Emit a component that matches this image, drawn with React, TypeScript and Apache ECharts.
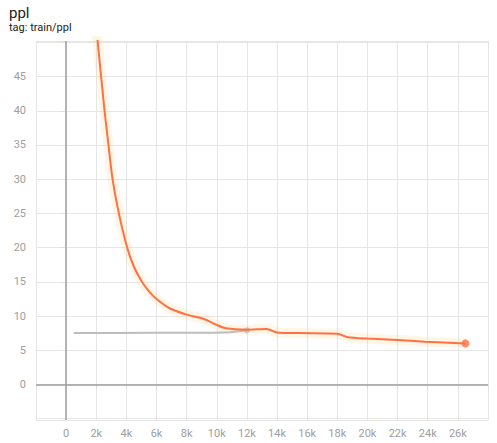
import React, { useEffect, useRef } from "react";
import * as echarts from "echarts";

const trainSteps = [2000, 2550, 2810, 3080, 3500, 4050, 4500, 5030, 5500, 6000, 6900, 8000, 9100, 10000, 10600, 12000, 13300, 14000, 15500, 18000, 18700, 20000, 22000, 23800, 26500];
const trainPpl = [52.2, 40, 35, 30, 25, 20, 17.2, 15, 13.6, 12.5, 11.1, 10.2, 9.6, 8.7, 8.2, 8.0, 8.1, 7.6, 7.5, 7.4, 6.9, 6.7, 6.5, 6.25, 6.0];
const otherSteps = [500, 6000, 10500, 12000];
const otherPpl = [7.5, 7.55, 7.6, 7.9];

const titleText = "ppl";
const tagText = "tag: train/ppl";

export default function App() {
  const ref = useRef<HTMLDivElement>(null);
  useEffect(() => {
    if (!ref.current) return;
    const chart = echarts.init(ref.current, undefined, { renderer: "svg" });
    const orange = trainSteps.map((s, i) => [s, trainPpl[i]]);
    const gray = otherSteps.map((s, i) => [s, otherPpl[i]]);
    const font = "Roboto, 'Noto Sans', sans-serif";
    chart.setOption({
      animation: false,
      textStyle: { fontFamily: font },
      title: {
        left: 4,
        top: 0,
        text: titleText,
        subtext: tagText,
        itemGap: 2,
        textStyle: { fontSize: 15, fontWeight: "normal", color: "#212121", fontFamily: font },
        subtextStyle: { fontSize: 11, color: "#212121", fontFamily: font },
      },
      grid: { left: 36, right: 9, top: 41, bottom: 23 },
      xAxis: {
        type: "value",
        min: -2000,
        max: 28000,
        splitNumber: 15,
        axisLine: { show: false },
        axisTick: { show: true, length: 5, lineStyle: { color: "#e0e0e0" } },
        axisLabel: {
          color: "#9e9e9e",
          fontSize: 11,
          margin: 8,
          formatter: (v: number) => (v < 0 || v > 26000 ? "" : v === 0 ? "0" : v / 1000 + "k"),
        },
        splitLine: { show: true, lineStyle: { color: "#e6e6e6", width: 1 } },
      },
      yAxis: {
        type: "value",
        min: -5.2,
        max: 50.2,
        splitNumber: 11,
        axisLine: { show: false },
        axisTick: { show: true, length: 6, lineStyle: { color: "#e0e0e0" } },
        axisLabel: {
          color: "#9e9e9e",
          fontSize: 11,
          margin: 10,
          formatter: (v: number) => (v >= 0 && v <= 45 && Math.abs(v % 5) < 1e-6 ? String(v) : ""),
        },
        splitLine: { show: true, lineStyle: { color: "#e6e6e6", width: 1 } },
      },
      series: [
        {
          type: "line",
          data: gray,
          showSymbol: false,
          smooth: 0.2,
          lineStyle: { color: "#bdbdbd", width: 2 },
          z: 3,
          markLine: {
            silent: true,
            symbol: "none",
            label: { show: false },
            lineStyle: { color: "#9e9e9e", width: 1.5, type: "solid" },
            data: [{ xAxis: 0 }, { yAxis: 0 }],
          },
        },
        {
          type: "scatter",
          data: [gray[gray.length - 1]],
          symbolSize: 6,
          itemStyle: { color: "#bdbdbd" },
          z: 4,
        },
        {
          type: "line",
          data: orange,
          showSymbol: false,
          smooth: 0.25,
          lineStyle: { color: "#ffcc80", width: 10, opacity: 0.18 },
          z: 2,
          silent: true,
        },
        {
          type: "line",
          data: orange,
          showSymbol: false,
          smooth: 0.25,
          lineStyle: { color: "#ff7043", width: 2 },
          z: 5,
        },
        {
          type: "scatter",
          data: [orange[orange.length - 1]],
          symbolSize: 8,
          itemStyle: { color: "#ff7043" },
          z: 6,
        },
      ],
    });
    return () => chart.dispose();
  }, []);
  return (
    <div
      ref={ref}
      style={{ position: "fixed", left: 0, top: 0, width: 497, height: 443, background: "#fff" }}
    />
  );
}
